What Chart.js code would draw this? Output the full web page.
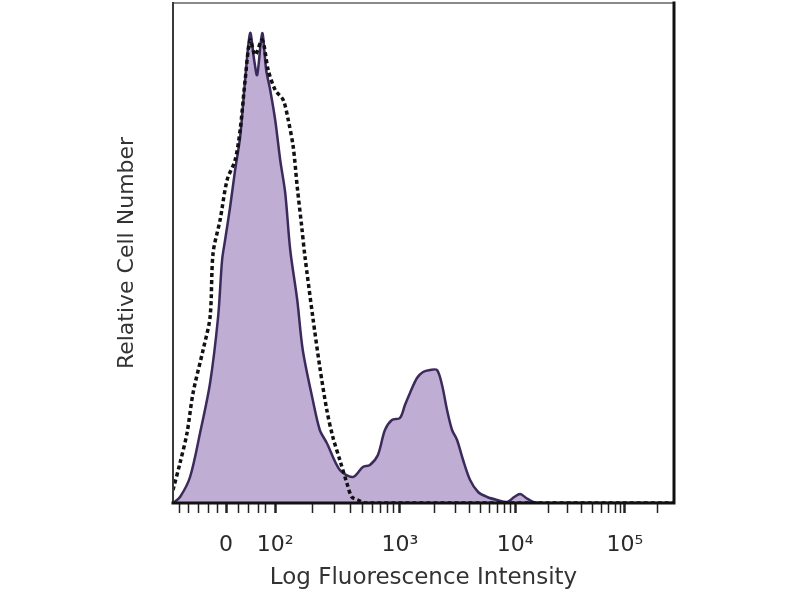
<!DOCTYPE html>
<html>
<head>
<meta charset="utf-8">
<script src="https://cdn.jsdelivr.net/npm/chart.js@4/dist/chart.umd.min.js"></script>
<style>
  html, body { margin: 0; padding: 0; background: #fff; }
  #wrap { width: 800px; height: 600px; }
</style>
</head>
<body>
<div id="wrap"><canvas id="histo"></canvas></div>
<script>
// channel position (0-1000 across the plot) and relative cell number
var stainedX = [0, 14, 34, 54, 74, 90, 98, 104, 114, 124, 134, 144, 154, 162, 168, 178, 186, 194, 204, 214, 224, 234, 248, 259, 279, 293, 307, 333, 359, 379, 393, 409, 423, 437, 453, 463, 473, 487, 499, 513, 527, 537, 547, 557, 567, 579, 593, 609, 627, 647, 667, 681, 693, 705, 719, 743, 1000];
var stainedY = [0, 1.2, 5.2, 14, 24, 37.2, 48.6, 52.6, 59.2, 66.6, 73.2, 84.6, 94, 88.6, 85.6, 94, 86.6, 82.6, 76.6, 68.6, 62, 50.6, 40.6, 30.6, 20.6, 14.6, 12, 6.6, 5.2, 7.2, 7.6, 9.6, 14.6, 16.6, 17, 19.6, 22, 25, 26.2, 26.6, 26.6, 23.6, 18.6, 14.6, 12.6, 8.6, 4.6, 2.2, 1.2, 0.6, 0.2, 1.2, 1.8, 1, 0.2, 0, 0];

var controlX = [0, 14, 28, 40, 60, 74, 80, 94, 108, 124, 134, 144, 154, 164, 178, 190, 204, 220, 230, 240, 248, 257, 263, 279, 293, 307, 319, 333, 347, 357, 369, 383, 1000];
var controlY = [2.6, 8, 14, 22, 30.6, 37.2, 50, 56.6, 64.6, 68.6, 74.6, 84.6, 92.6, 89.6, 92.6, 86.6, 82.6, 80.6, 76.6, 71.2, 63.2, 55.2, 49.6, 37.2, 27.2, 18.6, 13.2, 8.6, 4, 1.2, 0.6, 0, 0];

var majorTicks = [106, 204, 453, 683, 902];
var majorLabels = ['0', '10\u00b2', '10\u00b3', '10\u2074', '10\u2075'];
var minorTicks = [12, 30, 50, 70, 88, 130, 150, 170, 185, 279, 323, 354, 378, 398, 414, 428, 441, 522, 563, 592, 614, 632, 648, 661, 673, 749, 788, 815, 837, 855, 870, 883, 893, 968];

function pairs(xs, ys) {
  return xs.map(function (x, i) { return { x: x, y: ys[i] }; });
}

var frame = {
  id: 'frame',
  afterDraw: function (chart) {
    var a = chart.chartArea, c = chart.ctx;
    c.save();
    c.lineCap = 'square';
    c.strokeStyle = '#8a8a8a'; c.lineWidth = 2;
    c.beginPath(); c.moveTo(a.left, a.top); c.lineTo(a.right, a.top); c.stroke();
    c.strokeStyle = '#3a3a3a'; c.lineWidth = 2;
    c.beginPath(); c.moveTo(a.left, a.top); c.lineTo(a.left, a.bottom); c.stroke();
    c.strokeStyle = '#111'; c.lineWidth = 3;
    c.beginPath(); c.moveTo(a.right, a.top); c.lineTo(a.right, a.bottom); c.lineTo(a.left, a.bottom); c.stroke();
    c.restore();
  }
};

new Chart(document.getElementById('histo'), {
  type: 'line',
  data: {
    datasets: [
      {
        label: 'Control',
        data: pairs(controlX, controlY),
        borderColor: '#111',
        borderWidth: 3.5,
        borderDash: [4, 3],
        fill: false,
        pointRadius: 0,
        tension: 0.3
      },
      {
        label: 'Stained',
        data: pairs(stainedX, stainedY),
        borderColor: '#3b2a5c',
        backgroundColor: 'rgba(192, 173, 211, 1)',
        borderWidth: 2.5,
        fill: 'origin',
        pointRadius: 0,
        tension: 0.3
      }
    ]
  },
  options: {
    responsive: true,
    maintainAspectRatio: false,
    animation: false,
    layout: { padding: { left: 110, right: 126, top: 3, bottom: 0 } },
    plugins: { legend: { display: false }, tooltip: { enabled: false } },
    scales: {
      x: {
        type: 'linear',
        min: 0,
        max: 1000,
        afterBuildTicks: function (axis) {
          axis.ticks = majorTicks.concat(minorTicks).sort(function (a, b) { return a - b; })
            .map(function (v) { return { value: v }; });
        },
        afterFit: function (axis) { axis.height = 97; },
        ticks: {
          autoSkip: false,
          maxRotation: 0,
          padding: 19,
          color: '#2a2a2a',
          font: { family: 'DejaVu Sans', size: 22 },
          callback: function (v) {
            var i = majorTicks.indexOf(v);
            return i >= 0 ? majorLabels[i] : '';
          }
        },
        grid: {
          display: true,
          drawOnChartArea: false,
          drawTicks: true,
          tickLength: 10,
          tickColor: '#222',
          tickWidth: function (ctx) { return majorTicks.indexOf(ctx.tick.value) >= 0 ? 2.5 : 1.5; }
        },
        border: { display: false },
        title: {
          display: true,
          text: 'Log Fluorescence Intensity',
          color: '#333',
          font: { family: 'DejaVu Sans', size: 23 },
          padding: { top: 0, bottom: 8 }
        }
      },
      y: {
        min: 0,
        max: 100,
        afterFit: function (axis) { axis.width = 63; },
        ticks: { display: false },
        grid: { display: false, drawTicks: false },
        border: { display: false },
        title: {
          display: true,
          text: 'Relative Cell Number',
          color: '#333',
          font: { family: 'DejaVu Sans', size: 22 },
          padding: { top: 4, bottom: 0 }
        }
      }
    }
  },
  plugins: [frame]
});
</script>
</body>
</html>
